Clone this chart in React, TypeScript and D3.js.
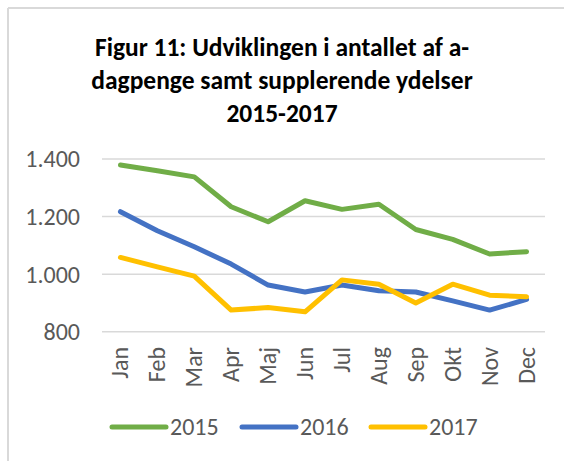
import React from 'react';
import * as d3 from 'd3';

const months = ['Jan', 'Feb', 'Mar', 'Apr', 'Maj', 'Jun', 'Jul', 'Aug', 'Sep', 'Okt', 'Nov', 'Dec'];
const values2015 = [1379, 1359, 1338, 1234, 1182, 1255, 1225, 1243, 1155, 1121, 1070, 1078];
const values2016 = [1217, 1151, 1095, 1035, 962, 938, 962, 942, 938, 907, 875, 912];
const values2017 = [1058, 1025, 993, 875, 884, 869, 980, 965, 900, 965, 927, 921];
const yTicks = [800, 1000, 1200, 1400];
const titleLines = [
  'Figur 11: Udviklingen i antallet af a-',
  'dagpenge samt supplerende ydelser',
  '2015-2017',
];

const series = [
  { name: '2015', values: values2015, color: '#70AD47' },
  { name: '2016', values: values2016, color: '#4472C4' },
  { name: '2017', values: values2017, color: '#FFC000' },
];

const FONT = "Calibri, Carlito, Lato, sans-serif";

const App = () => {
  const ref = React.useRef<SVGSVGElement | null>(null);

  React.useEffect(() => {
    const width = 564;
    const height = 461;

    const svg = d3.select(ref.current);
    svg.selectAll('*').remove();

    // frame of the chart area (only top and left edges visible)
    svg.append('line')
      .attr('x1', 8).attr('x2', width).attr('y1', 8).attr('y2', 8)
      .attr('stroke', '#D9D9D9').attr('stroke-width', 2);
    svg.append('line')
      .attr('x1', 8).attr('x2', 8).attr('y1', 8).attr('y2', height)
      .attr('stroke', '#D9D9D9').attr('stroke-width', 2);

    // title
    svg.append('g')
      .attr('font-family', FONT)
      .attr('font-weight', 'bold')
      .attr('font-size', 25.5)
      .attr('text-anchor', 'middle')
      .attr('fill', '#000')
      .selectAll('text')
      .data(titleLines)
      .join('text')
      .attr('x', 282)
      .attr('y', (d, i) => 56 + i * 33)
      .text((d) => d);

    const x = d3.scaleBand().domain(months).range([102, 545]);
    const y = d3.scaleLinear().domain([800, 1400]).range([331.7, 159]);
    const cx = (m: string) => (x(m) as number) + x.bandwidth() / 2;

    const locale = d3.formatLocale({ decimal: ',', thousands: '.', grouping: [3], currency: ['', ''] });
    const fmt = locale.format(',');

    // gridlines
    svg.append('g')
      .selectAll('line')
      .data(yTicks)
      .join('line')
      .attr('x1', 102).attr('x2', 545)
      .attr('y1', (d) => y(d)).attr('y2', (d) => y(d))
      .attr('stroke', '#D9D9D9').attr('stroke-width', 1.5);

    // y labels
    svg.append('g')
      .attr('font-family', FONT)
      .attr('font-size', 24)
      .attr('fill', '#595959')
      .attr('text-anchor', 'end')
      .selectAll('text')
      .data(yTicks)
      .join('text')
      .attr('x', 80)
      .attr('y', (d) => y(d))
      .attr('dy', '0.35em')
      .text((d) => fmt(d));

    // x labels
    svg.append('g')
      .attr('font-family', FONT)
      .attr('font-size', 24)
      .attr('fill', '#595959')
      .attr('text-anchor', 'end')
      .selectAll('text')
      .data(months)
      .join('text')
      .attr('transform', (d) => `translate(${cx(d) + 8},347) rotate(-90)`)
      .text((d) => d);

    // lines
    const line = d3.line<number>()
      .x((d, i) => cx(months[i]))
      .y((d) => y(d));

    svg.append('g')
      .selectAll('path')
      .data(series)
      .join('path')
      .attr('d', (d) => line(d.values))
      .attr('fill', 'none')
      .attr('stroke', (d) => d.color)
      .attr('stroke-width', 5)
      .attr('stroke-linejoin', 'round')
      .attr('stroke-linecap', 'round');

    // legend
    const legendX = [112, 242, 371];
    const lg = svg.append('g')
      .selectAll('g')
      .data(series)
      .join('g')
      .attr('transform', (d, i) => `translate(${legendX[i]},427)`);
    lg.append('line')
      .attr('x1', 0).attr('x2', 54)
      .attr('stroke', (d) => d.color)
      .attr('stroke-width', 5)
      .attr('stroke-linecap', 'round');
    lg.append('text')
      .attr('x', 58)
      .attr('y', 8)
      .attr('font-family', FONT)
      .attr('font-size', 24)
      .attr('fill', '#595959')
      .text((d) => d.name);
  }, []);

  return (
    <div style={{ position: 'absolute', left: 0, top: 0 }}>
      <svg ref={ref} width={564} height={461} style={{ display: 'block', background: '#fff' }} />
    </div>
  );
};

export default App;
